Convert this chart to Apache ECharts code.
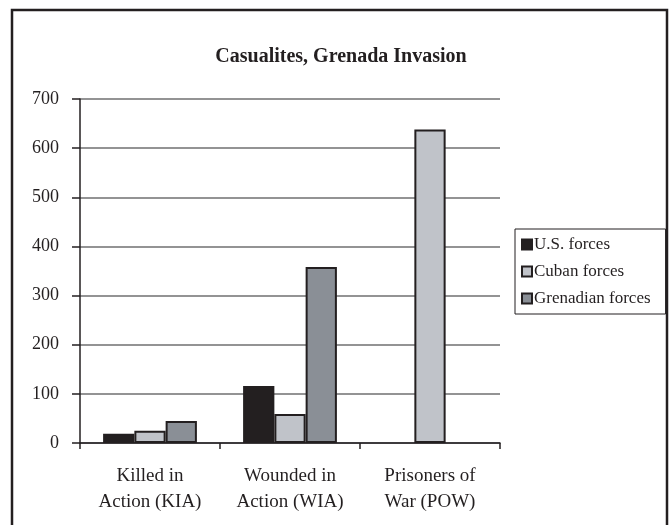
<!DOCTYPE html>
<html>
<head>
<meta charset="utf-8">
<script src="https://cdn.jsdelivr.net/npm/echarts@6/dist/echarts.min.js"></script>
<style>
  html, body { margin: 0; padding: 0; background: #fff; }
  #chart { width: 669px; height: 525px; }
</style>
</head>
<body>
<div id="chart"></div>
<script>
// Casualty counts by category and force
const categories = ['Killed in\nAction (KIA)', 'Wounded in\nAction (WIA)', 'Prisoners of\nWar (POW)'];
const usForces = [19, 116, 0];
const cubanForces = [25, 59, 638];
const grenadianForces = [45, 358, 0];
const seriesNames = ['U.S. forces', 'Cuban forces', 'Grenadian forces'];
const seriesColors = ['#231f20', '#c0c3c9', '#8a8f96'];

const FONT = '"Liberation Serif", "DejaVu Serif", serif';
const INK = '#231f20';

const chart = echarts.init(document.getElementById('chart'), null, { renderer: 'canvas' });

const seriesData = [usForces, cubanForces, grenadianForces];

// Zero-height bars get no outline so they leave no stray line on the baseline
function barItems(values) {
  return values.map(v => v === 0
    ? { value: v, itemStyle: { borderWidth: 0 } }
    : v);
}

chart.setOption({
  backgroundColor: '#fff',
  animation: false,
  textStyle: { fontFamily: FONT, color: INK },
  title: {
    text: 'Casualites, Grenada Invasion',
    left: 336,
    textAlign: 'center',
    top: 42,
    textStyle: { fontFamily: FONT, fontWeight: 'bold', fontSize: 20, color: INK }
  },
  graphic: [{
    type: 'rect',
    shape: { x: 12, y: 10, width: 655, height: 540 },
    style: { fill: 'none', stroke: INK, lineWidth: 2.5 },
    silent: true
  }],
  legend: {
    orient: 'vertical',
    left: 515,
    top: 229,
    data: seriesNames,
    icon: 'rect',
    itemWidth: 10,
    itemHeight: 10,
    itemGap: 10,
    padding: [7, 15, 7, 6],
    borderColor: INK,
    borderWidth: 1,
    textStyle: { fontFamily: FONT, fontSize: 17, color: INK, padding: [0, 0, 0, -3] }
  },
  grid: { left: 80, right: 169, top: 99, bottom: 82, containLabel: false },
  xAxis: {
    type: 'category',
    data: categories,
    axisLine: { lineStyle: { color: INK, width: 1.5 } },
    axisTick: { show: true, length: 6, lineStyle: { color: INK, width: 1.5 } },
    axisLabel: { fontFamily: FONT, fontSize: 19, color: INK, margin: 20, lineHeight: 26 }
  },
  yAxis: {
    type: 'value',
    min: 0,
    max: 700,
    interval: 100,
    axisLine: { show: true, lineStyle: { color: INK, width: 1.5 } },
    axisTick: { show: true, length: 8, lineStyle: { color: INK, width: 1.5 } },
    axisLabel: { fontFamily: FONT, fontSize: 18, color: INK, margin: 21 },
    splitLine: { lineStyle: { color: '#6f6f70', width: 1.5 } }
  },
  series: seriesNames.map((name, i) => ({
    name: name,
    type: 'bar',
    data: barItems(seriesData[i]),
    barGap: '0%',
    barCategoryGap: '33%',
    itemStyle: { color: seriesColors[i], borderColor: INK, borderWidth: 2 }
  }))
});
</script>
</body>
</html>
